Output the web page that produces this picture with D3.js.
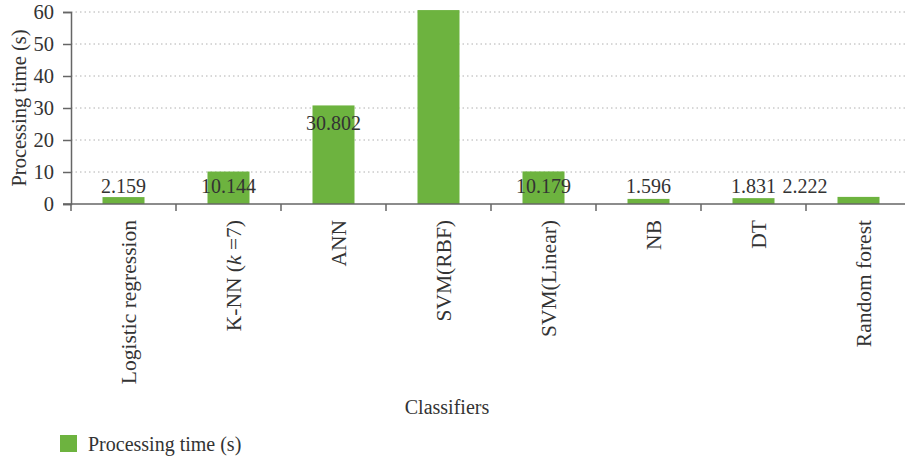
<!DOCTYPE html>
<html><head><meta charset="utf-8">
<script src="https://cdn.jsdelivr.net/npm/d3@7"></script>
<style>body{margin:0;background:#fff}svg{display:block}text{font-family:"Liberation Serif","Times New Roman",serif;fill:#333}</style>
</head><body><svg id="c" width="905" height="464"></svg>
<script>
const categories = ["Logistic regression","K-NN (k =7)","ANN","SVM(RBF)","SVM(Linear)","NB","DT","Random forest"];
const values = [2.159, 10.144, 30.802, 60.6, 10.179, 1.596, 1.831, 2.222];
const yTicks = [0,10,20,30,40,50,60];
const seriesName = "Processing time (s)";
const xTitle = "Classifiers";

const W = 905, H = 464;
const m = {left:71, top:12, right:-6, bottom:260};
const svg = d3.select("#c");
const x = d3.scaleBand().domain(categories).range([m.left, W - m.right]).paddingInner(0.6).paddingOuter(0.3);
const xb = d3.scaleBand().domain(categories).range([m.left, W - m.right]);
const y = d3.scaleLinear().domain([0,60]).range([H - m.bottom, m.top]);
const color = "#6db33f";
const fs = 20;

// grid
svg.append("g").selectAll("line").data(yTicks.filter(d=>d>0)).join("line")
  .attr("x1", m.left).attr("x2", W).attr("y1", d=>y(d)).attr("y2", d=>y(d))
  .attr("stroke","#b0b0b0").attr("stroke-width",1).attr("stroke-dasharray","1.5,3");

// bars (clipped slightly above top of axis)
const topClip = y(60) - 2;
svg.append("g").selectAll("rect").data(values).join("rect")
  .attr("x",(d,i)=>x(categories[i])).attr("width",x.bandwidth())
  .attr("y",d=>Math.max(y(d), topClip)).attr("height",d=>y(0)-Math.max(y(d), topClip))
  .attr("fill",color);

// y axis
const ya = svg.append("g").attr("transform",`translate(${m.left},0)`)
  .call(d3.axisLeft(y).tickValues(yTicks).tickSize(8).tickPadding(9));
ya.selectAll("text").style("font-size","20.5px").attr("fill","#333").style("font-family","Liberation Serif");
ya.select(".domain").attr("stroke","#666").attr("stroke-width",1.5);
ya.selectAll(".tick line").attr("stroke","#666").attr("stroke-width",1.5);

// x axis
const xa = svg.append("g").attr("transform",`translate(0,${y(0)})`);
xa.append("line").attr("x1",m.left-8).attr("x2",W).attr("y1",0).attr("y2",0).attr("stroke","#666").attr("stroke-width",1.5);
xa.selectAll(".tk").data(categories.map((c,i)=>xb(c))).join("line").attr("class","tk")
  .attr("x1",d=>d).attr("x2",d=>d).attr("y1",0).attr("y2",7).attr("stroke","#666").attr("stroke-width",1.5);
xa.selectAll(".lbl").data(categories).join("text").attr("class","lbl")
  .attr("transform",d=>`translate(${xb(d)+xb.bandwidth()/2+10},16) rotate(-90)`)
  .attr("text-anchor","end").attr("dy","0.1em").style("font-size","21.5px")
  .each(function(d){
    const t = d3.select(this);
    if (d.includes("(k")) {
      const parts = d.split("k");
      t.append("tspan").text(parts[0]);
      t.append("tspan").style("font-style","italic").text("k");
      t.append("tspan").text(parts[1]);
    } else t.text(d);
  });

// value labels
svg.append("g").selectAll("text").data(values.map((v,i)=>({v,i})).filter(d=>d.v<=60)).join("text")
  .attr("x",d=>Math.min(x(categories[d.i])+x.bandwidth()/2, W - 100))
  .attr("y",d=>Math.min(y(d.v)+18, y(0)-18))
  .attr("dy","0.35em").attr("text-anchor","middle").style("font-size",fs+"px")
  .text(d=>d.v.toFixed(3));

// y title
svg.append("text").attr("transform",`translate(19,${(y(0)+y(60))/2}) rotate(-90)`)
  .attr("text-anchor","middle").attr("dy","0.35em").style("font-size","20.5px").text(seriesName);
// x title
svg.append("text").attr("x",447).attr("y",407).attr("text-anchor","middle").attr("dy","0.35em").style("font-size",fs+"px").text(xTitle);
// legend
const lg = svg.append("g").attr("transform","translate(60,435)");
lg.append("rect").attr("width",17).attr("height",17).attr("fill",color);
lg.append("text").attr("x",28).attr("y",9).attr("dy","0.35em").style("font-size",fs+"px").text(seriesName);
</script></body></html>
